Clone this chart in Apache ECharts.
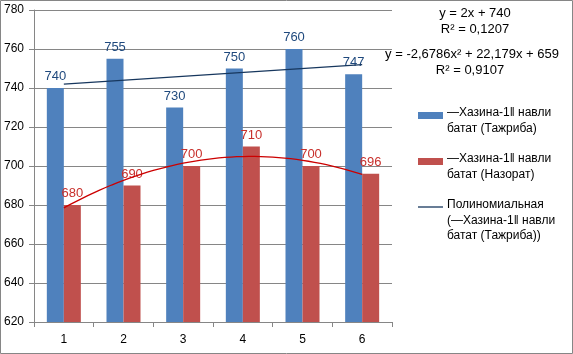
<!DOCTYPE html>
<html>
<head>
<meta charset="utf-8">
<script src="https://cdn.jsdelivr.net/npm/echarts@6/dist/echarts.min.js"></script>
<style>
html,body{margin:0;padding:0;background:#fff;}
#c{width:573px;height:354px;}
</style>
</head>
<body>
<div id="c"></div>
<script>
var categories = ['1', '2', '3', '4', '5', '6'];
var tajribaValues = [740, 755, 730, 750, 760, 747];
var nazoratValues = [680, 690, 700, 710, 700, 696];
var yTicks = [620, 640, 660, 680, 700, 720, 740, 760, 780];
var seriesNames = ['―Хазина-1‖ навли батат (Тажриба)', '―Хазина-1‖ навли батат (Назорат)', 'Полиномиальная (―Хазина-1‖ навли батат (Тажриба))'];
var linearCoef = [2, 740];            // y = 2x + 740
var polyCoef = [-2.6786, 22.179, 659]; // y = -2,6786x² + 22,179x + 659
var eqTexts = ['y = 2x + 740', 'R² = 0,1207', 'y = -2,6786x² + 22,179x + 659', 'R² = 0,9107'];

var FONT = 'Liberation Sans, Arial, sans-serif';

var linearLine = [1, categories.length].map(function (x) { return [x, linearCoef[0] * x + linearCoef[1]]; });
var polyLine = [];
for (var i = 0; i <= 50; i++) {
  var x = 1 + i * (categories.length - 1) / 50;
  polyLine.push([x, polyCoef[0] * x * x + polyCoef[1] * x + polyCoef[2]]);
}

var chart = echarts.init(document.getElementById('c'));
var legendX = 418, textX = 447;
function legendText(lines, y0) {
  return lines.map(function (t, k) {
    return { type: 'text', left: textX, top: y0 + k * 15.5 - 8, style: { text: t, font: '12px ' + FONT, fill: '#000' } };
  });
}
var EQF = '13px ' + FONT;
chart.setOption({
  animation: false,
  backgroundColor: '#fff',
  grid: { left: 34, right: 181, top: 10, bottom: 32, containLabel: false },
  xAxis: [{
    type: 'category', data: categories,
    axisLine: { lineStyle: { color: '#868686' } },
    axisTick: { show: true, length: 5, lineStyle: { color: '#868686' } },
    axisLabel: { color: '#000', fontFamily: FONT, fontSize: 12, margin: 12 },
    splitLine: { show: false }
  }, {
    type: 'value', min: 0.5, max: categories.length + 0.5, show: false
  }],
  yAxis: {
    type: 'value', min: yTicks[0], max: yTicks[yTicks.length - 1], interval: yTicks[1] - yTicks[0],
    axisLine: { show: true, lineStyle: { color: '#868686' } },
    axisTick: { show: true, length: 5, lineStyle: { color: '#868686' } },
    axisLabel: { color: '#000', fontFamily: FONT, fontSize: 12, margin: 10 },
    splitLine: { lineStyle: { color: '#868686', width: 1 } }
  },
  series: [{
    name: seriesNames[0], type: 'bar', data: tajribaValues, barGap: '0%', barCategoryGap: '43%',
    itemStyle: { color: '#4F81BD' },
    label: { show: true, position: 'top', distance: 5, color: '#1F497D', fontFamily: FONT, fontSize: 13 }
  }, {
    name: seriesNames[1], type: 'bar', data: nazoratValues,
    itemStyle: { color: '#C0504D' },
    label: { show: true, position: 'top', distance: 5, color: '#C8302C', fontFamily: FONT, fontSize: 13 }
  }, {
    name: seriesNames[2], type: 'line', xAxisIndex: 1, data: linearLine, showSymbol: false, symbol: 'none',
    lineStyle: { color: '#17375E', width: 1.3 }, z: 5
  }, {
    name: 'poly', type: 'line', xAxisIndex: 1, data: polyLine, showSymbol: false, symbol: 'none', smooth: false,
    lineStyle: { color: '#CC0000', width: 1.3 }, z: 5
  }],
  graphic: [
    { type: 'rect', shape: { x: 0.5, y: 0.5, width: 572, height: 353 }, style: { fill: 'none', stroke: '#868686', lineWidth: 1 }, silent: true },
    { type: 'text', x: 475, y: 13, style: { text: eqTexts[0], font: EQF, fill: '#000', align: 'center', verticalAlign: 'middle' } },
    { type: 'text', x: 475, y: 29, style: { text: eqTexts[1], font: EQF, fill: '#000', align: 'center', verticalAlign: 'middle' } },
    { type: 'text', x: 472, y: 54, style: { text: eqTexts[2], font: EQF, fill: '#000', align: 'center', verticalAlign: 'middle' } },
    { type: 'text', x: 470, y: 70, style: { text: eqTexts[3], font: EQF, fill: '#000', align: 'center', verticalAlign: 'middle' } },
    { type: 'rect', shape: { x: legendX, y: 112, width: 25, height: 7 }, style: { fill: '#4F81BD' } },
    { type: 'rect', shape: { x: legendX, y: 158, width: 25, height: 7 }, style: { fill: '#C0504D' } },
    { type: 'line', shape: { x1: legendX, y1: 207, x2: legendX + 25, y2: 207 }, style: { stroke: '#17375E', lineWidth: 1.3 } }
  ].concat(legendText(['―Хазина-1‖ навли', 'батат (Тажриба)'], 115))
   .concat(legendText(['―Хазина-1‖ навли', 'батат (Назорат)'], 161))
   .concat(legendText(['Полиномиальная', '(―Хазина-1‖ навли', 'батат (Тажриба))'], 207))
});
</script>
</body>
</html>
